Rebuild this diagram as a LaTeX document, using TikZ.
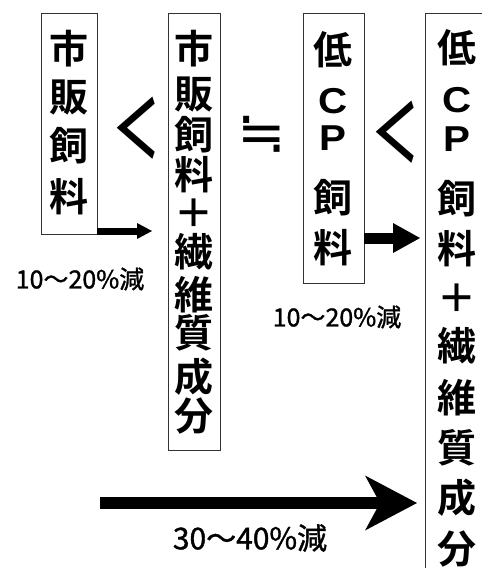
\documentclass[tikz,border=0pt]{standalone}
\usepackage{fontspec}
\setmainfont{Noto Sans CJK JP}
\newfontfamily\jpb{Noto Sans CJK JP Bold}
\newfontfamily\jpr{Noto Sans CJK JP}
\newfontfamily\jpm[FakeBold=1.2]{Noto Sans CJK JP}
\newfontfamily\dvs{DejaVu Sans}
\newfontfamily\lsans{Liberation Sans}
\newcommand\widelat[1]{\scalebox{1.12}[1]{#1}}
\usetikzlibrary{arrows.meta}
\begin{document}
\begin{tikzpicture}[x=1pt,y=-1pt,
  box/.style={draw=black!80, line width=0.9pt, inner sep=0pt},
  ch/.style={font=\jpb\fontsize{39}{39}\selectfont, inner sep=0pt, anchor=center},
  lat/.style={font=\lsans\bfseries\fontsize{36}{36}\selectfont, inner sep=0pt},
  lbl/.style={font=\jpm\fontsize{25}{25}\selectfont, inner sep=0pt},
  biglbl/.style={font=\jpm\fontsize{30}{30}\selectfont, inner sep=0pt},
  sym/.style={inner sep=0pt},
  fat/.style={line width=#1}
]
\useasboundingbox (0,0) rectangle (482,568);
\clip (0,0) rectangle (482,568);

% boxes
\node[box, minimum width=56pt, minimum height=221pt] (b1) at (69,123.5) {};
\node[box, minimum width=52pt, minimum height=437pt] (b2) at (194,231.5) {};
\node[box, minimum width=61pt, minimum height=270pt] (b3) at (333.5,148) {};
\node[box, minimum width=80pt, minimum height=580pt] (b4) at (465,303) {};

% box 1 text
\foreach \c/\y [count=\i] in {市/49,販/97,飼/146,料/197}
  \node[ch] (t1\i) at (69,\y) {\c};
% box 2 text
\foreach \c/\y [count=\i] in {市/49,販/94,飼/135,料/175,＋/213,繊/252,維/295,質/333,成/377,分/416}
  \node[ch] (t2\i) at (194,\y) {\c};
% box 3 text
\node[ch] (t31) at (333,50) {低};
\node[lat] (t32) at (333,101) {\widelat{C}};
\node[lat] (t33) at (333,138) {\widelat{P}};
\node[ch] (t34) at (333,198) {飼};
\node[ch] (t35) at (333,248) {料};
% box 4 text
\node[ch] (t41) at (457,48) {低};
\node[lat] (t42) at (457,100) {\widelat{C}};
\node[lat] (t43) at (457,139) {\widelat{P}};
\foreach \c/\y [count=\i from 4] in {飼/199,料/249,＋/298,繊/346,維/398,質/448,成/498,分/549}
  \node[ch] (t4\i) at (457,\y) {\c};

% relation symbols
\node[sym, font=\jpb\fontsize{80}{80}\selectfont, xscale=0.6] (lt1) at (136,128) {＜};
\node[sym, font=\dvs\fontsize{58}{58}\selectfont] (approx) at (261.5,134) {≒};
\node[sym, font=\jpb\fontsize{80}{80}\selectfont, xscale=0.6] (lt2) at (395,132) {＜};

% labels
\node[lbl] (l1) at (80,279) {10〜20\%減};
\node[lbl] (l2) at (337,317) {10〜20\%減};
\node[biglbl] (l3) at (250,538) {30〜40\%減};

% arrows
\coordinate (a1e) at (152,231);
\coordinate (a2e) at (420,238);
\coordinate (a3s) at (100,503);
\coordinate (a3e) at (417,503);
\draw[fat=7pt, -{Triangle[length=15pt,width=16pt,line width=0pt]}] (b1.east |- a1e) -- (a1e);
\draw[fat=11pt, -{Triangle[length=27pt,width=30pt,line width=0pt]}] (b3.east |- a2e) -- (a2e);
\draw[fat=11.5pt, -{Stealth[length=52pt,width=55pt,inset=15pt,line width=0pt]}] (a3s) -- (a3e);
\end{tikzpicture}
\end{document}
